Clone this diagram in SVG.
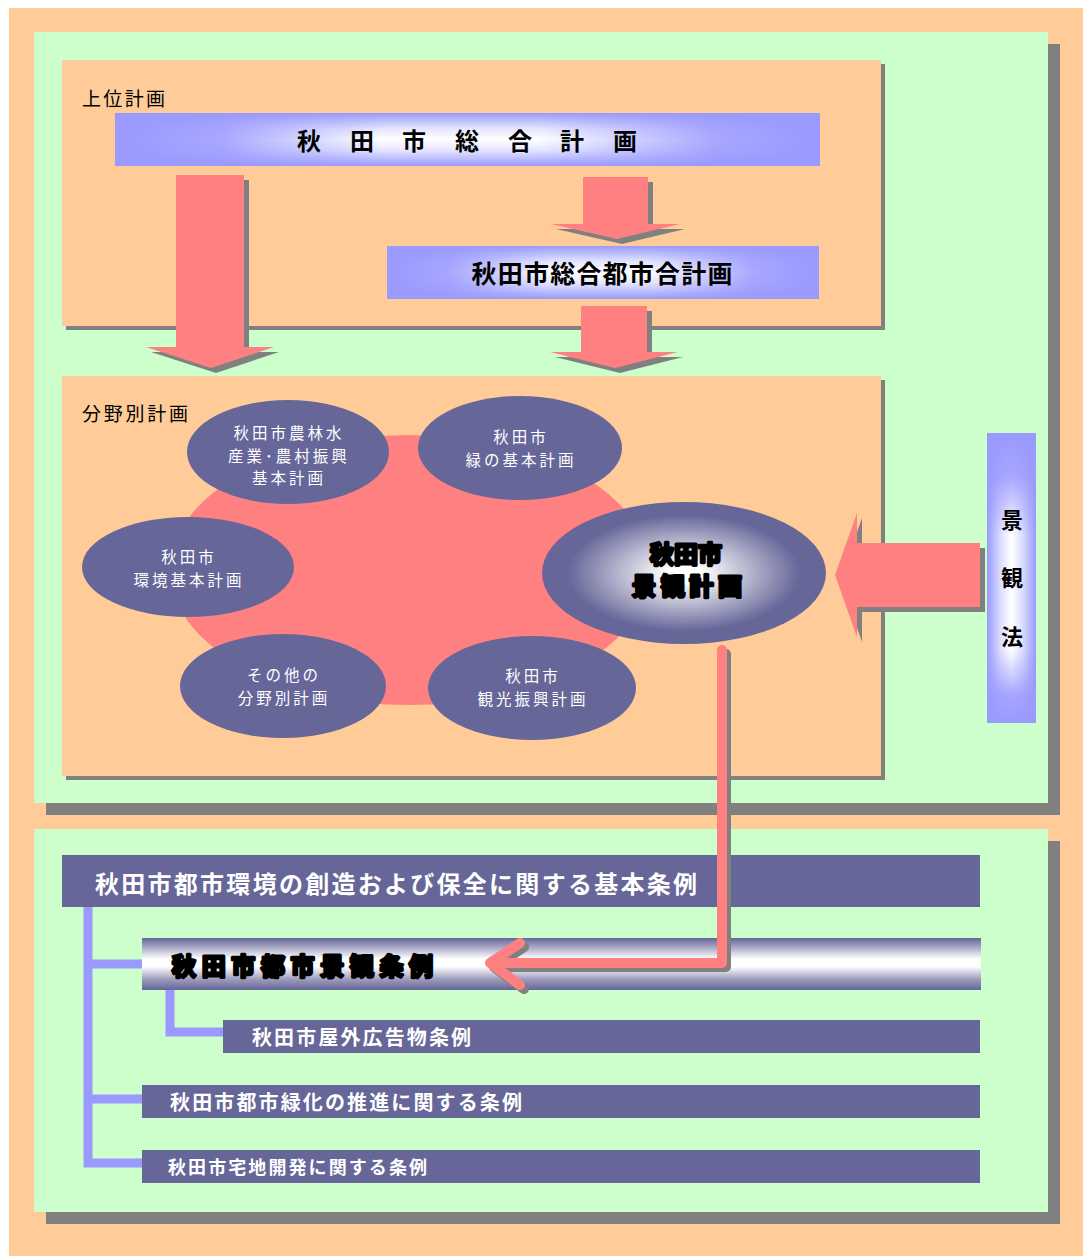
<svg xmlns="http://www.w3.org/2000/svg" width="1083" height="1256" viewBox="0 0 1083 1256">
<style>
text{font-family:"Noto Sans CJK JP","Noto Sans CJK SC",sans-serif}
.peach{fill:#FFCC99}
.green{fill:#CCFFCC}
.shadow{fill:#808080}
.pink{fill:#FF8080}
.purple{fill:#666699}
.wt{fill:#fff;font-size:15.5px;text-anchor:middle;letter-spacing:3px}
.lbl{fill:#000;font-size:19px}
.bk{fill:#000;font-weight:bold}
.heavy{fill:#000;stroke:#000;stroke-width:3;stroke-linejoin:round;font-weight:bold;paint-order:stroke}
.bw{fill:#fff;font-weight:bold}
.tree{fill:none;stroke:#9999FF;stroke-width:9}
</style>
<defs>
<linearGradient id="lavH" x1="0" y1="0" x2="1" y2="0">
<stop offset="0" stop-color="#9999FF"/><stop offset="0.15" stop-color="#a8a8ff"/><stop offset="0.38" stop-color="#fff"/><stop offset="0.6" stop-color="#fff"/><stop offset="0.85" stop-color="#a8a8ff"/><stop offset="1" stop-color="#9999FF"/>
</linearGradient>
<linearGradient id="lavVo" x1="0" y1="0" x2="0" y2="1">
<stop offset="0" stop-color="#9999FF" stop-opacity="1"/><stop offset="0.3" stop-color="#9999FF" stop-opacity="0.25"/><stop offset="0.5" stop-color="#9999FF" stop-opacity="0"/><stop offset="0.7" stop-color="#9999FF" stop-opacity="0.25"/><stop offset="1" stop-color="#9999FF" stop-opacity="1"/>
</linearGradient>
<linearGradient id="lavV" x1="0" y1="0" x2="0" y2="1">
<stop offset="0" stop-color="#9999FF"/><stop offset="0.15" stop-color="#a8a8ff"/><stop offset="0.35" stop-color="#fff"/><stop offset="0.75" stop-color="#fff"/><stop offset="0.9" stop-color="#a8a8ff"/><stop offset="1" stop-color="#9999FF"/>
</linearGradient>
<linearGradient id="lavHo" x1="0" y1="0" x2="1" y2="0">
<stop offset="0" stop-color="#9999FF" stop-opacity="1"/><stop offset="0.3" stop-color="#9999FF" stop-opacity="0.3"/><stop offset="0.5" stop-color="#9999FF" stop-opacity="0"/><stop offset="0.7" stop-color="#9999FF" stop-opacity="0.3"/><stop offset="1" stop-color="#9999FF" stop-opacity="1"/>
</linearGradient>
<radialGradient id="ctr" cx="0.5" cy="0.5" r="0.5">
<stop offset="0" stop-color="#fff"/><stop offset="0.12" stop-color="#fff"/><stop offset="0.82" stop-color="#666699"/><stop offset="1" stop-color="#666699"/>
</radialGradient>
<linearGradient id="pipe" x1="0" y1="0" x2="0" y2="1">
<stop offset="0" stop-color="#666699"/><stop offset="0.2" stop-color="#b0b0cc"/><stop offset="0.4" stop-color="#fff"/><stop offset="0.55" stop-color="#fff"/><stop offset="0.8" stop-color="#9a9abb"/><stop offset="1" stop-color="#666699"/>
</linearGradient>
</defs>

<rect x="9" y="8" width="1074" height="1248" class="peach"/>

<g id="panel-top">
<rect x="46" y="44" width="1014" height="771" class="shadow"/>
<rect x="34" y="32" width="1014" height="771" class="green"/>
</g>
<g id="panel-bottom">
<rect x="46" y="841" width="1014" height="383" class="shadow"/>
<rect x="34" y="829" width="1014" height="383" class="green"/>
</g>

<g id="upper-plan">
<rect x="66" y="64" width="819" height="266" class="shadow"/>
<rect x="62" y="60" width="819" height="266" class="peach"/>
<text x="82" y="106" class="lbl" textLength="83" lengthAdjust="spacing">上位計画</text>
</g>

<g id="sogo-keikaku">
<rect x="115" y="113" width="705" height="53" fill="url(#lavH)"/>
<rect x="115" y="113" width="705" height="53" fill="url(#lavVo)"/>
<text y="150" class="bk" font-size="24" text-anchor="middle" x="309 362 414 467 520 572 625">秋田市総合計画</text>
</g>

<g id="toshi-keikaku">
<rect x="387" y="246" width="432" height="53" fill="url(#lavH)"/>
<rect x="387" y="246" width="432" height="53" fill="url(#lavVo)"/>
<text x="602" y="283" class="bk" font-size="25" text-anchor="middle" textLength="261" lengthAdjust="spacing">秋田市総合都市合計画</text>
</g>

<g id="bunya-plan">
<rect x="66" y="380" width="819" height="400" class="shadow"/>
<rect x="62" y="376" width="819" height="400" class="peach"/>
<text x="82" y="421" class="lbl" font-size="20" textLength="106" lengthAdjust="spacing">分野別計画</text>
<ellipse cx="410" cy="570" rx="240" ry="135" class="pink"/>
</g>

<g id="arrows">
<polygon class="shadow" points="181,180 249,180 249,352 279,352 216,373 151,352 181,352"/>
<polygon class="pink" points="176,175 244,175 244,347 274,347 211,368 146,347 176,347"/>
<polygon class="shadow" points="588,182 653,182 653,229 685,229 622,244 556,229 588,229"/>
<polygon class="pink" points="583,177 648,177 648,224 680,224 617,239 551,224 583,224"/>
<polygon class="shadow" points="586,311 652,311 652,357 683,357 620,373 555,357 586,357"/>
<polygon class="pink" points="581,306 647,306 647,352 678,352 615,368 550,352 581,352"/>
<polygon class="shadow" points="985,548 985,612 862,612 862,642 840,580 862,518 862,548"/>
<polygon class="pink" points="980,543 980,607 857,607 857,637 835,575 857,513 857,543"/>
</g>

<g id="n-norin">
<ellipse cx="288" cy="452" rx="101" ry="52" class="purple"/>
<text x="289" y="439" class="wt">秋田市農林水</text>
<text x="289" y="461.5" class="wt">産業･農村振興</text>
<text x="289" y="484" class="wt">基本計画</text>
</g>
<g id="n-midori">
<ellipse cx="520" cy="448" rx="102" ry="52" class="purple"/>
<text x="521" y="443" class="wt">秋田市</text>
<text x="521" y="466" class="wt">緑の基本計画</text>
</g>
<g id="n-kankyo">
<ellipse cx="188" cy="567" rx="106" ry="50" class="purple"/>
<text x="189" y="563" class="wt">秋田市</text>
<text x="189" y="586" class="wt">環境基本計画</text>
</g>
<g id="n-sonota">
<ellipse cx="283" cy="686" rx="103" ry="52" class="purple"/>
<text x="284" y="681" class="wt">その他の</text>
<text x="284" y="704" class="wt">分野別計画</text>
</g>
<g id="n-kanko">
<ellipse cx="532" cy="688" rx="104" ry="52" class="purple"/>
<text x="533" y="682" class="wt">秋田市</text>
<text x="533" y="705" class="wt">観光振興計画</text>
</g>
<g id="n-keikan-keikaku">
<ellipse cx="684" cy="573" rx="142" ry="71" fill="url(#ctr)"/>
<text x="686" y="563" class="heavy" font-size="24" text-anchor="middle">秋田市</text>
<text x="687" y="595" class="heavy" font-size="24" text-anchor="middle" textLength="110" lengthAdjust="spacing">景観計画</text>
</g>

<g id="n-keikanho">
<rect x="987" y="433" width="49" height="290" fill="url(#lavV)"/>
<rect x="987" y="433" width="49" height="290" fill="url(#lavHo)"/>
<text x="1012" y="528" class="bk" font-size="22" text-anchor="middle">景</text>
<text x="1012" y="586" class="bk" font-size="22" text-anchor="middle">観</text>
<text x="1012" y="645" class="bk" font-size="22" text-anchor="middle">法</text>
</g>

<g id="n-kihon-jorei">
<rect x="62" y="855" width="918" height="52" class="purple"/>
<text x="95" y="893" class="bw" font-size="24" textLength="602" lengthAdjust="spacing">秋田市都市環境の創造および保全に関する基本条例</text>
</g>

<g id="tree">
<path class="tree" d="M88,907 V1163 H142 M88,964 H142 M88,1099 H142"/>
<path class="tree" d="M170,990 V1032 H223"/>
</g>

<g id="n-keikan-jorei">
<rect x="142" y="938" width="839" height="52" fill="url(#pipe)"/>
<text x="172" y="975" class="heavy" font-size="24" textLength="261" lengthAdjust="spacing">秋田市都市景観条例</text>
</g>
<g id="n-okugai">
<rect x="223" y="1020" width="757" height="33" class="purple"/>
<text x="252" y="1045" class="bw" font-size="20" textLength="219" lengthAdjust="spacing">秋田市屋外広告物条例</text>
</g>
<g id="n-ryokka">
<rect x="142" y="1085" width="838" height="33" class="purple"/>
<text x="170" y="1110" class="bw" font-size="20" textLength="352" lengthAdjust="spacing">秋田市都市緑化の推進に関する条例</text>
</g>
<g id="n-takuchi">
<rect x="142" y="1150" width="838" height="33" class="purple"/>
<text x="168" y="1174" class="bw" font-size="18" textLength="259" lengthAdjust="spacing">秋田市宅地開発に関する条例</text>
</g>

<g id="connectors">
<path d="M726,654 V967 H499 M524,947 L494,967 L524,989" fill="none" stroke="#808080" stroke-width="10" stroke-linecap="round" stroke-linejoin="round"/>
<path d="M722,650 V963 H495 M520,943 L490,963 L520,985" fill="none" stroke="#FF8080" stroke-width="10" stroke-linecap="round" stroke-linejoin="round"/>
</g>
</svg>
